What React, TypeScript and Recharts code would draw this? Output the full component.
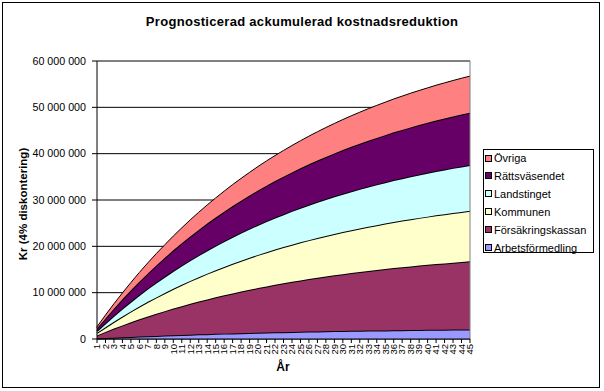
import { AreaChart, Area, XAxis, YAxis, CartesianGrid, ReferenceLine } from "recharts"

// År 1..45
const years = [
  1, 2, 3, 4, 5, 6, 7, 8, 9, 10, 11, 12, 13, 14, 15, 16, 17, 18, 19, 20, 21, 22, 23,
  24, 25, 26, 27, 28, 29, 30, 31, 32, 33, 34, 35, 36, 37, 38, 39, 40, 41, 42, 43, 44, 45,
]

// miljoner kr, ackumulerat per aktör
const arbetsformedling = [
  0.1, 0.19, 0.28, 0.36, 0.44, 0.52, 0.6, 0.67, 0.74, 0.81, 0.87, 0.94, 1.0, 1.05, 1.11,
  1.16, 1.21, 1.26, 1.31, 1.36, 1.4, 1.44, 1.48, 1.52, 1.56, 1.6, 1.63, 1.66, 1.7, 1.73,
  1.76, 1.79, 1.81, 1.84, 1.86, 1.89, 1.91, 1.93, 1.95, 1.97, 1.99, 2.01, 2.03, 2.05, 2.07,
]
const forsakringskassan = [
  0.68, 1.34, 1.97, 2.57, 3.16, 3.72, 4.26, 4.77, 5.27, 5.75, 6.21, 6.65, 7.08, 7.49, 7.88,
  8.26, 8.63, 8.98, 9.31, 9.64, 9.95, 10.25, 10.53, 10.81, 11.08, 11.33, 11.58, 11.81, 12.04,
  12.26, 12.47, 12.67, 12.87, 13.05, 13.23, 13.41, 13.57, 13.73, 13.89, 14.03, 14.18, 14.31,
  14.44, 14.57, 14.69,
]
const kommunen = [
  0.51, 0.99, 1.46, 1.91, 2.34, 2.76, 3.16, 3.54, 3.91, 4.27, 4.61, 4.94, 5.25, 5.56, 5.85,
  6.13, 6.4, 6.66, 6.91, 7.15, 7.38, 7.6, 7.82, 8.02, 8.22, 8.41, 8.59, 8.77, 8.93, 9.1,
  9.25, 9.4, 9.55, 9.68, 9.82, 9.95, 10.07, 10.19, 10.3, 10.41, 10.52, 10.62, 10.72, 10.81, 10.9,
]
const landstinget = [
  0.46, 0.9, 1.33, 1.74, 2.13, 2.51, 2.87, 3.22, 3.55, 3.88, 4.19, 4.49, 4.77, 5.05, 5.31,
  5.57, 5.82, 6.05, 6.28, 6.5, 6.71, 6.91, 7.1, 7.29, 7.47, 7.64, 7.81, 7.97, 8.12, 8.27,
  8.41, 8.54, 8.68, 8.8, 8.92, 9.04, 9.15, 9.26, 9.36, 9.46, 9.56, 9.65, 9.74, 9.82, 9.9,
]
const rattsvasendet = [
  0.52, 1.03, 1.51, 1.98, 2.43, 2.86, 3.27, 3.67, 4.05, 4.42, 4.77, 5.12, 5.44, 5.76, 6.06,
  6.35, 6.63, 6.9, 7.16, 7.41, 7.65, 7.88, 8.1, 8.31, 8.51, 8.71, 8.9, 9.08, 9.26, 9.42,
  9.59, 9.74, 9.89, 10.03, 10.17, 10.31, 10.43, 10.56, 10.67, 10.79, 10.9, 11.0, 11.1, 11.2, 11.29,
]
const ovriga = [
  0.37, 0.72, 1.06, 1.38, 1.7, 2.0, 2.29, 2.57, 2.83, 3.09, 3.34, 3.58, 3.81, 4.03, 4.24,
  4.44, 4.64, 4.82, 5.0, 5.18, 5.35, 5.51, 5.66, 5.81, 5.95, 6.09, 6.22, 6.35, 6.47, 6.59,
  6.7, 6.81, 6.91, 7.02, 7.11, 7.2, 7.29, 7.38, 7.46, 7.54, 7.62, 7.69, 7.76, 7.83, 7.89,
]

const yTicks = [0, 10, 20, 30, 40, 50, 60]

// nedifrån och upp i stapeln
const series = [
  { key: "arb", name: "Arbetsförmedling", color: "#9999FF", values: arbetsformedling },
  { key: "fk", name: "Försäkringskassan", color: "#993366", values: forsakringskassan },
  { key: "kom", name: "Kommunen", color: "#FFFFCC", values: kommunen },
  { key: "land", name: "Landstinget", color: "#CCFFFF", values: landstinget },
  { key: "ratt", name: "Rättsväsendet", color: "#660066", values: rattsvasendet },
  { key: "ovr", name: "Övriga", color: "#FF8080", values: ovriga },
]

const data = years.map((year, i) => {
  const row: Record<string, number | string> = { year: String(year) }
  series.forEach((s) => {
    row[s.key] = s.values[i]
  })
  return row
})

const font = "'Liberation Sans', Arial, sans-serif"

const formatKr = (v: number) =>
  Math.round(v * 1000000)
    .toString()
    .replace(/\B(?=(\d{3})+(?!\d))/g, " ")

const YearTick = (props: any) => {
  const { x, y, payload } = props
  return (
    <text
      x={x}
      y={y}
      transform={`rotate(-90 ${x} ${y})`}
      textAnchor="end"
      dy="0.35em"
      fontSize={9.5}
      fontFamily={font}
      fill="#000"
    >
      {payload.value}
    </text>
  )
}

export default function App() {
  return (
    <div style={{ position: "relative", width: 604, height: 391, background: "#fff", fontFamily: font }}>
      <style>{`body { margin: 0; }`}</style>
      <div
        style={{
          position: "absolute",
          left: 2,
          top: 2,
          width: 596,
          height: 384,
          border: "1px solid #000",
        }}
      />
      <div
        style={{
          position: "absolute",
          left: 0,
          width: 604,
          top: 14,
          textAlign: "center",
          fontSize: 13,
          fontWeight: "bold",
          letterSpacing: 0.3,
        }}
      >
        Prognosticerad ackumulerad kostnadsreduktion
      </div>

      <AreaChart
        width={604}
        height={391}
        data={data}
        margin={{ top: 61, right: 134, bottom: 0, left: 0 }}
        style={{ position: "absolute", left: 0, top: 0 }}
      >
        <CartesianGrid vertical={false} stroke="#000" strokeWidth={1} />
        <XAxis
          dataKey="year"
          interval={0}
          height={52}
          tickSize={4}
          tickMargin={1}
          axisLine={{ stroke: "#000" }}
          tickLine={{ stroke: "#000" }}
          tick={<YearTick />}
        />
        <YAxis
          width={97}
          domain={[0, 60]}
          ticks={yTicks}
          tickFormatter={formatKr}
          tickSize={5}
          tickMargin={6}
          axisLine={{ stroke: "#000" }}
          tickLine={{ stroke: "#000" }}
          tick={{ fill: "#000", fontSize: 10.7, fontFamily: font }}
        />
        {series.map((s) => (
          <Area
            key={s.key}
            type="linear"
            dataKey={s.key}
            name={s.name}
            stackId="1"
            fill={s.color}
            fillOpacity={1}
            stroke="#000"
            strokeWidth={s.key === "ovr" ? 1 : 2}
            isAnimationActive={false}
          />
        ))}
        <ReferenceLine y={60} stroke="#808080" />
        <ReferenceLine x="45" stroke="#808080" />
      </AreaChart>

      <div
        style={{
          position: "absolute",
          left: 23,
          top: 204,
          transform: "translate(-50%, -50%) rotate(-90deg)",
          whiteSpace: "nowrap",
          fontSize: 11.5,
          fontWeight: "bold",
        }}
      >
        Kr (4% diskontering)
      </div>
      <div
        style={{
          position: "absolute",
          left: 283,
          top: 367,
          transform: "translate(-50%, -50%)",
          fontSize: 12,
          fontWeight: "bold",
        }}
      >
        År
      </div>

      <div
        style={{
          position: "absolute",
          left: 483,
          top: 149,
          width: 109,
          height: 102,
          border: "1px solid #000",
          fontSize: 11,
        }}
      >
        {[...series].reverse().map((s, i) => (
          <div
            key={s.key}
            style={{
              position: "absolute",
              left: 1,
              top: i * 17.9 - 1,
              height: 18,
              lineHeight: "18px",
              display: "flex",
              alignItems: "center",
              whiteSpace: "nowrap",
            }}
          >
            <span
              style={{
                display: "inline-block",
                width: 5,
                height: 5,
                background: s.color,
                border: "1px solid #000",
                marginRight: 2,
              }}
            />
            {s.name}
          </div>
        ))}
      </div>
    </div>
  )
}
